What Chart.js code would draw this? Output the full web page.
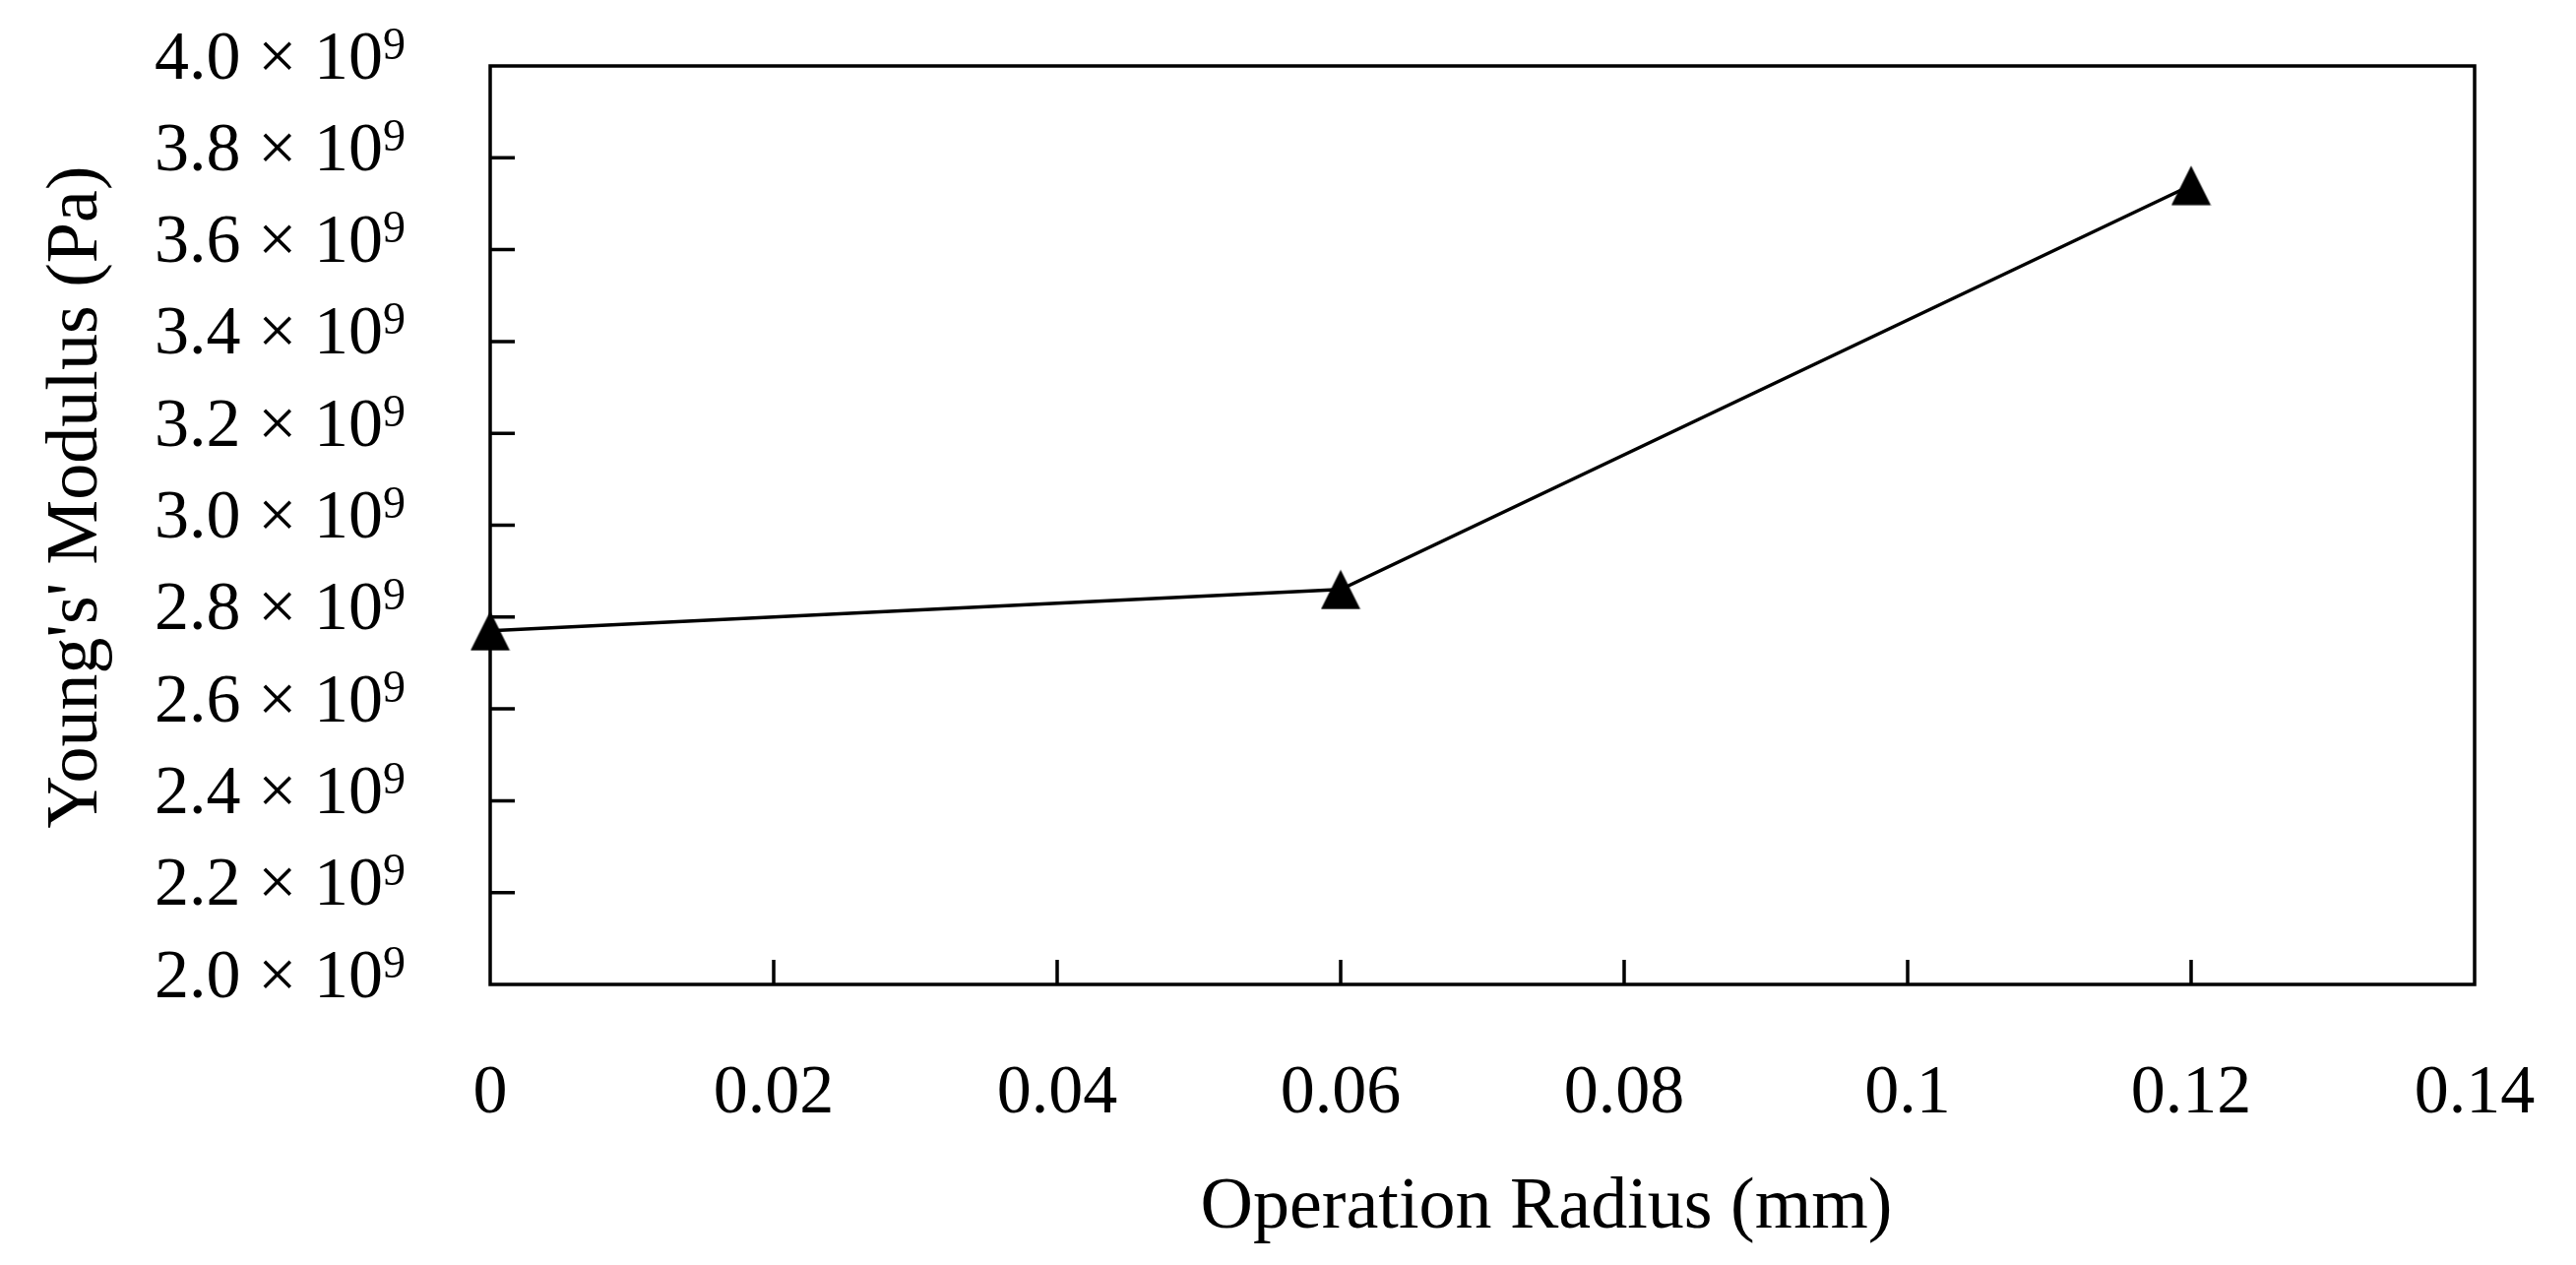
<!DOCTYPE html>
<html>
<head>
<meta charset="utf-8">
<script src="https://cdn.jsdelivr.net/npm/chart.js@4.4.1/dist/chart.umd.min.js"></script>
<style>
  html, body { margin: 0; padding: 0; background: #fff; }
  #wrap { width: 2617px; height: 1285px; position: relative; }
</style>
</head>
<body>
<div id="wrap"><canvas id="modulusChart"></canvas></div>
<script>
// data
const radius = [0, 0.06, 0.12];
const modulus = [2.77e9, 2.86e9, 3.74e9];

// tick values
const xTicks = [0, 0.02, 0.04, 0.06, 0.08, 0.1, 0.12, 0.14];
const yTicks = [2.0e9, 2.2e9, 2.4e9, 2.6e9, 2.8e9, 3.0e9, 3.2e9, 3.4e9, 3.6e9, 3.8e9, 4.0e9];

const xTitle = 'Operation Radius (mm)';
const yTitle = "Young's' Modulus (Pa)";

const FONT = '"Liberation Serif", "DejaVu Serif", serif';

// triangle marker, centred on its box like the original
const tri = document.createElement('canvas');
tri.width = 41;
tri.height = 41;
const tctx = tri.getContext('2d');
tctx.fillStyle = '#000';
tctx.beginPath();
tctx.moveTo(20.5, 0.5);
tctx.lineTo(40.5, 40.5);
tctx.lineTo(0.5, 40.5);
tctx.closePath();
tctx.fill();

// frame, inward ticks, y labels with exponent, axis titles
const framePlugin = {
    id: 'frame',
    afterDatasetsDraw(chart) {
        const c = chart.ctx;
        const a = chart.chartArea;
        const xs = chart.scales.x;
        const ys = chart.scales.y;
        c.save();
        c.strokeStyle = '#000';
        c.lineWidth = 3.5;
        c.strokeRect(a.left, a.top, a.right - a.left, a.bottom - a.top);
        c.beginPath();
        xs.ticks.forEach(t => {
            const px = xs.getPixelForValue(t.value);
            if (px - a.left < 2 || a.right - px < 2) return;
            c.moveTo(px, a.bottom);
            c.lineTo(px, a.bottom - 25);
        });
        ys.ticks.forEach(t => {
            const py = ys.getPixelForValue(t.value);
            if (py - a.top < 2 || a.bottom - py < 2) return;
            c.moveTo(a.left, py);
            c.lineTo(a.left + 25, py);
        });
        c.stroke();

        c.fillStyle = '#000';
        c.textAlign = 'right';
        c.textBaseline = 'alphabetic';
        const right = a.left - 86;
        c.font = '46px ' + FONT;
        const w9 = c.measureText('9').width;
        ys.ticks.forEach(t => {
            const py = ys.getPixelForValue(t.value);
            c.font = '70px ' + FONT;
            c.fillText((t.value / 1e9).toFixed(1) + ' × 10', right - w9, py + 12.5);
            c.font = '46px ' + FONT;
            c.fillText('9', right, py - 7.5);
        });

        c.font = '74px ' + FONT;
        c.textAlign = 'center';
        c.fillText(xTitle, 1571, 1247);
        c.translate(98, 505);
        c.rotate(-Math.PI / 2);
        c.fillText(yTitle, 0, 0);
        c.restore();
    }
};

const ctx = document.getElementById('modulusChart').getContext('2d');
new Chart(ctx, {
    type: 'scatter',
    data: {
        datasets: [{
            data: radius.map((r, i) => ({ x: r, y: modulus[i] })),
            showLine: true,
            borderColor: '#000',
            borderWidth: 3.5,
            backgroundColor: '#000',
            pointStyle: tri,
            pointRadius: 20,
            pointHoverRadius: 20,
            clip: false
        }]
    },
    options: {
        responsive: true,
        maintainAspectRatio: false,
        animation: false,
        events: [],
        layout: { padding: { top: 67, right: 103, left: 0, bottom: 0 } },
        plugins: {
            legend: { display: false },
            tooltip: { enabled: false }
        },
        scales: {
            x: {
                type: 'linear',
                min: 0,
                max: 0.14,
                afterBuildTicks: s => { s.ticks = xTicks.map(v => ({ value: v })); },
                afterFit: s => {
                    s.height = 285;
                    s.paddingLeft = 0;
                    s.paddingRight = 0;
                },
                grid: { display: false, drawTicks: false },
                border: { display: false },
                ticks: {
                    padding: 70,
                    color: '#000',
                    font: { family: FONT, size: 70 },
                    maxRotation: 0,
                    autoSkip: false,
                    callback: v => String(Number(v.toFixed(2)))
                }
            },
            y: {
                type: 'linear',
                min: 2e9,
                max: 4e9,
                afterBuildTicks: s => { s.ticks = yTicks.map(v => ({ value: v })); },
                afterFit: s => {
                    s.width = 498;
                    s.paddingTop = 0;
                    s.paddingBottom = 0;
                },
                grid: { display: false, drawTicks: false },
                border: { display: false },
                ticks: { display: false }
            }
        }
    },
    plugins: [framePlugin]
});
</script>
</body>
</html>
